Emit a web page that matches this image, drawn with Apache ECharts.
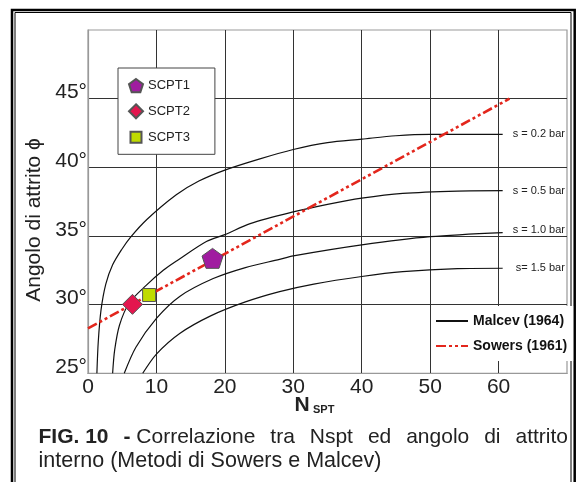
<!DOCTYPE html>
<html><head><meta charset="utf-8">
<script src="https://cdn.jsdelivr.net/npm/echarts@6/dist/echarts.min.js"></script>
<style>html,body{margin:0;padding:0;background:#fff}#c{width:577px;height:482px}</style>
</head><body><div id="c"></div>
<script>
// ---- data ----
const xMin = 0, xMax = 70, xStep = 10;
const yMin = 25, yMax = 50, yStep = 5;
const curve02 = [[1.3,25],[1.5,27.3],[1.9,29.6],[2.6,31.5],[3.6,32.9],[4.9,34.0],[6.2,34.9],[8.6,36.2],[12.9,38.0],[16.2,39.0],[20,39.8],[25,40.6],[30,41.3],[35,41.8],[40,42.05],[45,42.3],[50,42.4],[60.6,42.4]];
const curve05 = [[3.6,25],[3.9,26.7],[4.6,28.5],[6,30.1],[8.5,31.4],[11,32.5],[13,33.2],[17.3,34.6],[20,35.1],[23.7,35.9],[30,36.75],[35,37.3],[40,37.75],[46,38.1],[54,38.27],[60.6,38.3]];
const curve10 = [[5.3,25],[7,26.9],[10,29],[13.4,30.6],[18.3,31.9],[23,32.7],[28,33.3],[30,33.55],[40,34.35],[50,34.95],[60.6,35.25]];
const curve15 = [[8,25],[10,26.4],[13.4,27.9],[18,29.2],[23,30.2],[28,30.95],[33,31.5],[40,32.05],[46,32.4],[54,32.62],[60.6,32.65]];
const curveLabels = ['s = 0.2 bar','s = 0.5 bar','s = 1.0 bar','s= 1.5 bar'];
const sowers = [[0,28.27],[61.6,45]];
const scpt1 = [[18.2,33.37]];
const scpt2 = [[6.5,30.02]];
const scpt3 = [[8.93,30.7]];
const seriesNames = ['SCPT1','SCPT2','SCPT3','Malcev (1964)','Sowers (1961)'];
const yTitle = 'Angolo di attrito ϕ';
const captionLine1 = [[{t:'FIG. 10', b:true}], [{t:'- ', b:true},{t:'Correlazione'}], [{t:'tra'}], [{t:'Nspt'}], [{t:'ed'}], [{t:'angolo'}], [{t:'di'}], [{t:'attrito'}]];
const captionLine2 = 'interno (Metodi di Sowers e Malcev)';

// ---- chart ----
const FONT = '"Liberation Sans", Arial, sans-serif';
const chart = echarts.init(document.getElementById('c'), null, {renderer:'canvas'});
const pentagon = 'path://M50 0 L97.55 34.55 L79.39 90.45 L20.61 90.45 L2.45 34.55 Z';
const smallSquare = 'path://M0 0 M14 14 M1.5 1.5 L12.5 1.5 L12.5 12.5 L1.5 12.5 Z';
const hiddenSymbol = {color:'rgba(0,0,0,0)', borderColor:'rgba(0,0,0,0)', borderWidth:0, opacity:0};

// caption justification
const ctx = document.createElement('canvas').getContext('2d');
function tw(t, b){ ctx.font = (b?'bold ':'') + '21px ' + FONT; return ctx.measureText(t).width; }
const capLeft = 38.5, capRight = 568;
let total = 0;
captionLine1.forEach(g => g.forEach(p => total += tw(p.t, p.b)));
const gap = (capRight - capLeft - total) / (captionLine1.length - 1);
const capEls = [];
let cx = capLeft;
captionLine1.forEach(g => {
  g.forEach(p => {
    capEls.push({type:'text', x:cx, y:437.5, style:{text:p.t, font:(p.b?'bold ':'')+'21px '+FONT, fill:'#222', textAlign:'left', verticalAlign:'middle'}});
    cx += tw(p.t, p.b);
  });
  cx += gap;
});
capEls.push({type:'text', x:capLeft, y:461, style:{text:captionLine2, font:'21.5px '+FONT, fill:'#222', textAlign:'left', verticalAlign:'middle'}});

function malcev(data, idx, off){
  return {type:'line', name:seriesNames[3], data:data, smooth:0.3, symbol:'none', z:2,
    lineStyle:{color:'#111', width:1.2}, itemStyle:{color:'#111'},
    endLabel:{show:true, formatter:curveLabels[idx], distance:off[0], offset:[0,off[1]], fontSize:11, color:'#222', fontFamily:FONT}};
}

const option = {
  animation:false,
  backgroundColor:'#fff',
  grid:{left:88, top:30, right:10, bottom:108.7, show:true, borderColor:'#999', borderWidth:1.2, backgroundColor:'#fff'},
  xAxis:{type:'value', min:xMin, max:xMax, interval:xStep,
    axisLine:{show:true, lineStyle:{color:'#999', width:1.2}}, axisTick:{show:false},
    axisLabel:{fontSize:21, color:'#222', fontFamily:FONT, margin:3, formatter:v => v===xMax ? '' : String(v)},
    splitLine:{show:true, showMinLine:false, showMaxLine:false, lineStyle:{color:'#333', width:1}}},
  yAxis:{type:'value', min:yMin, max:yMax, interval:yStep,
    axisLine:{show:true, lineStyle:{color:'#999', width:1.2}}, axisTick:{show:false},
    axisLabel:{fontSize:21, color:'#222', fontFamily:FONT, margin:1, verticalAlign:'bottom', lineHeight:12, formatter:v => v===yMax ? '' : v+'°'},
    splitLine:{show:true, showMinLine:false, showMaxLine:false, lineStyle:{color:'#333', width:1}}},
  legend:[
    {orient:'vertical', left:118, top:68, padding:[10,25,9,10], itemWidth:14, itemHeight:14, itemGap:10,
     borderColor:'#444', borderWidth:1, backgroundColor:'#fff', selectedMode:false,
     textStyle:{fontSize:13, color:'#222', fontFamily:FONT},
     data:[{name:seriesNames[0], icon:pentagon},{name:seriesNames[1], icon:'diamond'},{name:seriesNames[2], icon:smallSquare}]},
    {orient:'vertical', left:432, top:306, padding:[8,6,8,3], itemWidth:32, itemHeight:14, itemGap:11,
     backgroundColor:'#fff', selectedMode:false,
     textStyle:{fontSize:14, fontWeight:'bold', color:'#111', fontFamily:FONT},
     data:[{name:seriesNames[3], itemStyle:hiddenSymbol}, {name:seriesNames[4], itemStyle:hiddenSymbol}]}
  ],
  series:[
    malcev(curve02,0,[10,0]), malcev(curve05,1,[10,0]), malcev(curve10,2,[10,-3]), malcev(curve15,3,[13,0]),
    {type:'line', name:seriesNames[4], data:sowers, symbol:'none', z:3,
      lineStyle:{color:'#E3261C', width:2.6, type:[10,3,3,3,3,3]}, itemStyle:{color:'#E3261C'}},
    {type:'scatter', name:seriesNames[0], data:scpt1, symbol:pentagon, symbolSize:[21,21], symbolKeepAspect:true, z:5,
      itemStyle:{color:'#A01CA0', borderColor:'#555', borderWidth:1, opacity:1}},
    {type:'scatter', name:seriesNames[1], data:scpt2, symbol:'diamond', symbolSize:[20,20], z:5,
      itemStyle:{color:'#E3164E', borderColor:'#555', borderWidth:1, opacity:1}},
    {type:'scatter', name:seriesNames[2], data:scpt3, symbol:'rect', symbolSize:[13,13], z:5,
      itemStyle:{color:'#BFDB00', borderColor:'#555', borderWidth:1, opacity:1}}
  ],
  graphic:[
    {type:'rect', shape:{x:12, y:10, width:562.7, height:520}, style:{fill:'none', stroke:'#000', lineWidth:2.5}, silent:true},
    {type:'rect', shape:{x:15, y:12.5, width:556, height:520}, style:{fill:'none', stroke:'#000', lineWidth:1}, silent:true},
    {type:'text', x:34, y:220, rotation:Math.PI/2, style:{text:yTitle, font:'21px '+FONT, fill:'#222', textAlign:'center', verticalAlign:'middle'}},
    {type:'text', x:294.5, y:405.5, style:{text:'N', font:'bold 21px '+FONT, fill:'#222', textAlign:'left', verticalAlign:'middle'}},
    {type:'text', x:313, y:409.5, style:{text:'SPT', font:'bold 11px '+FONT, fill:'#222', textAlign:'left', verticalAlign:'middle'}}
  ].concat(capEls)
};
chart.setOption(option);
</script>
</body></html>
